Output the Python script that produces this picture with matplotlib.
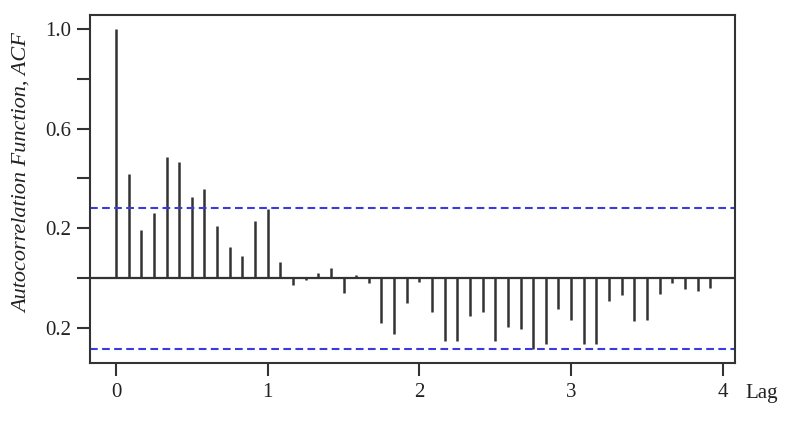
import matplotlib
matplotlib.use("Agg")
import matplotlib.pyplot as plt
import numpy as np

# ACF values at lags k/12, k = 0..47
acf_values = [1.0, 0.418, 0.194, 0.26, 0.484, 0.467, 0.327, 0.356, 0.211, 0.124, 0.088, 0.23,
              0.277, 0.064, -0.027, -0.009, 0.02, 0.039, -0.059, 0.013, -0.021, -0.179, -0.223, -0.101,
              -0.015, -0.137, -0.252, -0.252, -0.153, -0.137, -0.252, -0.196, -0.203, -0.283, -0.263, -0.124,
              -0.167, -0.263, -0.263, -0.093, -0.068, -0.172, -0.167, -0.063, -0.02, -0.045, -0.051, -0.039]
lags = [k / 12 for k in range(len(acf_values))]
conf_bound = 0.282
x_ticks = [0, 1, 2, 3, 4]
x_tick_labels = ["0", "1", "2", "3", "4"]
y_ticks = [1.0, 0.8, 0.6, 0.4, 0.2, 0.0, -0.2]
y_tick_labels = ["1.0", "", "0.6", "", "0.2", "", "0.2"]

plt.rcParams['font.family'] = ['Liberation Serif', 'DejaVu Serif']

fig = plt.figure(figsize=(8.04, 4.23), dpi=100)
ax = fig.add_axes([90/804, 1 - 363/423, (735-90)/804, (363-15)/423])

ax.vlines(lags, 0, acf_values, colors="#333333", linewidth=1.8)
ax.axhline(0, color="#333333", linewidth=1.6)
ax.axhline(conf_bound, color="#3a3ae0", linewidth=1.5, linestyle=(0, (3.7, 2.1)))
ax.axhline(-conf_bound, color="#3a3ae0", linewidth=1.5, linestyle=(0, (3.7, 2.1)))

ax.set_xlim(-0.171, 4.08)
ax.set_ylim(-0.34, 1.055)
ax.set_xticks(x_ticks)
ax.set_xticklabels(x_tick_labels)
ax.set_yticks(y_ticks)
ax.set_yticklabels(y_tick_labels)

for s in ax.spines.values():
    s.set_color("#333333")
    s.set_linewidth(1.5)

ax.tick_params(axis="both", direction="out", length=9.5, width=1.5, color="#333333",
               labelsize=15, labelcolor="#222222")
ax.tick_params(axis="x", pad=5)
ax.tick_params(axis="y", pad=4)

fig.text(22/804, 1 - 173/423, "Autocorrelation Function, ACF", fontsize=16, style="italic",
         color="#222222", rotation=90, ha="center", va="center")
fig.text(745/804, 1 - 393/423, "Lag", fontsize=15, color="#222222", va="center", ha="left")

fig.savefig("out.png", dpi=100)
